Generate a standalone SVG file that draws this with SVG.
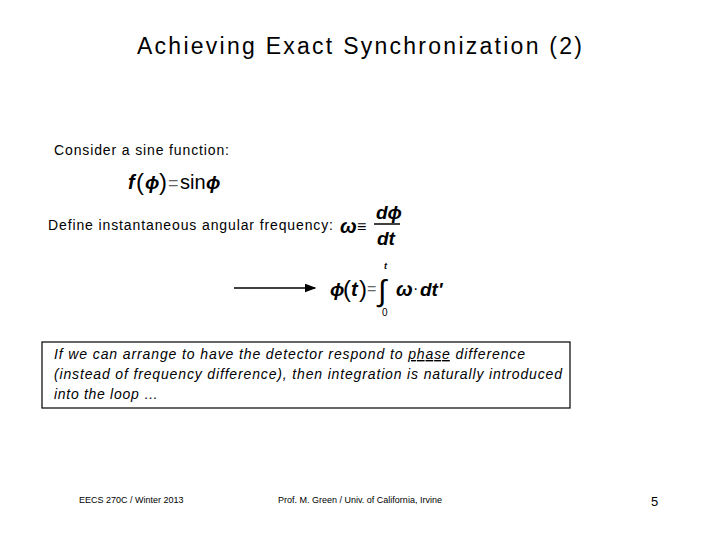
<svg xmlns="http://www.w3.org/2000/svg" width="720" height="540" viewBox="0 0 720 540">
<style>
text{font-family:"Liberation Sans",Arial,sans-serif;fill:#000}
.m{font-style:italic;font-weight:bold;font-family:"Liberation Sans",Arial,sans-serif}
.s{font-size:9px}
</style>
<defs><marker id="a" markerWidth="8" markerHeight="6" refX="7" refY="3" orient="auto"><path d="M0,0L8,3L0,6z" fill="#000"/></marker></defs>
<rect width="720" height="540" fill="#fff"/>
<g id="title"><text x="137" y="54" font-size="23" textLength="445" lengthAdjust="spacing">Achieving Exact Synchronization (2)</text></g>
<g id="eq1">
<text x="54" y="155" font-size="14" textLength="175" lengthAdjust="spacing">Consider a sine function:</text>
<text x="128" y="189" font-size="20" class="m">f</text>
<text x="136" y="190" font-size="24">(</text>
<text x="145" y="189" font-size="19" class="m">ϕ</text>
<text x="159" y="190" font-size="24">)</text>
<text x="168" y="189" font-size="18" style="fill:#666">=</text>
<text x="180" y="189" font-size="20">sin</text>
<text x="206" y="189" font-size="19" class="m">ϕ</text>
</g>
<g id="eq2">
<text x="48" y="230" font-size="14" textLength="285" lengthAdjust="spacing">Define instantaneous angular frequency:</text>
<text x="340" y="233" font-size="20" class="m">ω</text>
<text x="357" y="232" font-size="16">≡</text>
<text x="376" y="219" font-size="19" class="m">dϕ</text>
<line x1="374" y1="224" x2="400" y2="224" stroke="#000" stroke-width="1.5"/>
<text x="377" y="245" font-size="19" class="m">dt</text>
</g>
<g id="connectors"><line x1="234" y1="288" x2="315" y2="288" stroke="#000" stroke-width="1.5" marker-end="url(#a)"/></g>
<g id="eq3">
<text x="330" y="296" font-size="19" class="m">ϕ</text>
<text x="343" y="297" font-size="24">(</text>
<text x="351" y="296" font-size="20" class="m">t</text>
<text x="359" y="297" font-size="24">)</text>
<text x="367" y="294" font-size="16" style="fill:#666">=</text>
<text x="378" y="301" font-size="30">∫</text>
<text x="384" y="269" font-size="9" class="m">t</text>
<text x="382" y="316" font-size="10">0</text>
<text x="396" y="296" font-size="20" class="m">ω</text>
<text x="413" y="294" font-size="16">·</text>
<text x="420" y="296" font-size="19" class="m">dt'</text>
</g>
<g id="note">
<rect x="42" y="342" width="528" height="66" fill="#fff" stroke="#000" stroke-width="1.2"/>
<text font-size="14" font-style="italic"><tspan x="54" y="359" textLength="471" lengthAdjust="spacing">If we can arrange to have the detector respond to <tspan text-decoration="underline">phase</tspan> difference</tspan><tspan x="54" y="379" textLength="508" lengthAdjust="spacing">(instead of frequency difference), then integration is naturally introduced</tspan><tspan x="54" y="399" textLength="104" lengthAdjust="spacing">into the loop …</tspan></text>
</g>
<g id="footer">
<text x="79" y="503" class="s">EECS 270C / Winter 2013</text>
<text x="278" y="503" class="s">Prof. M. Green / Univ. of California, Irvine</text>
<text x="651" y="506" font-size="13">5</text>
</g>
</svg>
